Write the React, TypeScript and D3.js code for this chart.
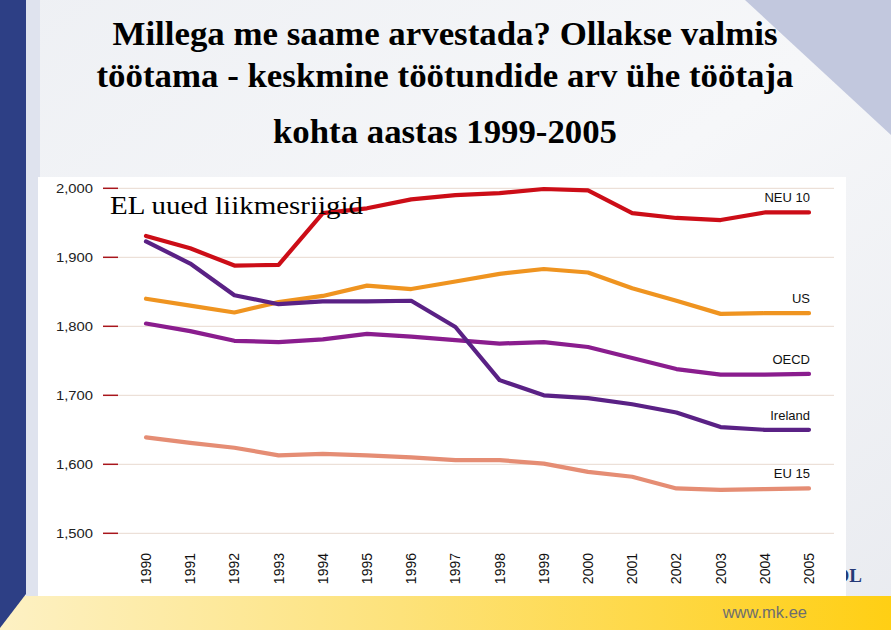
import React from 'react';
import * as d3 from 'd3';

// years on the x axis
const years = [1990, 1991, 1992, 1993, 1994, 1995, 1996, 1997, 1998, 1999, 2000, 2001, 2002, 2003, 2004, 2005];

// average annual hours per worker
const neu10 = [1931, 1913, 1888, 1889, 1964, 1971, 1984, 1990, 1993, 1999, 1997, 1964, 1957, 1954, 1965, 1965];
const us = [1840, 1830, 1820, 1835, 1844, 1859, 1854, 1865, 1876, 1883, 1878, 1855, 1837, 1818, 1819, 1819];
const oecd = [1804, 1793, 1779, 1777, 1781, 1789, 1785, 1780, 1775, 1777, 1770, 1754, 1738, 1730, 1730, 1731];
const ireland = [1923, 1891, 1845, 1832, 1836, 1836, 1837, 1799, 1722, 1700, 1696, 1687, 1675, 1654, 1650, 1650];
const eu15 = [1639, 1631, 1624, 1613, 1615, 1613, 1610, 1606, 1606, 1601, 1589, 1582, 1565, 1563, 1564, 1565];

const yTicks = [1500, 1600, 1700, 1800, 1900, 2000];

const titleLines = [
  'Millega me saame arvestada? Ollakse valmis',
  'töötama - keskmine töötundide arv ühe töötaja',
  'kohta aastas 1999-2005',
];

const series = [
  { name: 'EU 15', values: eu15, color: '#e58d74' },
  { name: 'US', values: us, color: '#ef9420' },
  { name: 'OECD', values: oecd, color: '#8a1d8e' },
  { name: 'Ireland', values: ireland, color: '#5a2185' },
  { name: 'NEU 10', values: neu10, color: '#cc0d17' },
];

const App: React.FC = () => {
  const x = d3.scaleLinear().domain([1990, 2005]).range([146, 809]);
  const y = d3.scaleLinear().domain([1500, 2000]).range([533.3, 188.3]);
  const fmt = d3.format(',');

  const line = d3
    .line<number>()
    .x((_, i) => x(years[i]))
    .y(d => y(d));

  const titleY = [45, 87, 143];
  const titleLen = [665, 697, 344];

  return (
    <svg width={891} height={630} style={{ position: 'fixed', left: 0, top: 0 }}>
      <defs>
        <linearGradient id="bg" x1="0" y1="0" x2="1" y2="1">
          <stop offset="0" stopColor="#eef0f4" />
          <stop offset="0.5" stopColor="#f6f7f9" />
          <stop offset="1" stopColor="#e9ebf0" />
        </linearGradient>
        <linearGradient id="yellow" x1="0" y1="0" x2="1" y2="0">
          <stop offset="0" stopColor="#fdf1c4" />
          <stop offset="0.45" stopColor="#fde27a" />
          <stop offset="1" stopColor="#ffcf14" />
        </linearGradient>
      </defs>

      {/* slide background */}
      <rect x={0} y={0} width={891} height={630} fill="url(#bg)" />
      <polygon points="745,0 891,0 891,135" fill="#c2c8de" />
      <rect x={26} y={0} width={14} height={596} fill="#dfe3ee" />
      <rect x={0} y={596} width={891} height={34} fill="url(#yellow)" />
      <polygon points="0,0 26,0 26,594 0,628" fill="#2d3f85" />
      <text x={862} y={582} textAnchor="end" fontFamily="Liberation Serif" fontWeight="bold" fontSize={19} fill="#243a78">
        OL
      </text>
      <text x={807} y={618} textAnchor="end" fontFamily="Liberation Sans" fontSize={16.5} fill="#6e6e6e">
        www.mk.ee
      </text>

      {/* title */}
      {titleLines.map((t, i) => (
        <text
          key={t}
          x={445}
          y={titleY[i]}
          textAnchor="middle"
          fontFamily="Liberation Serif"
          fontWeight="bold"
          fontSize={34}
          textLength={titleLen[i]}
          lengthAdjust="spacingAndGlyphs"
          fill="#000"
        >
          {t}
        </text>
      ))}

      {/* chart panel */}
      <rect x={38} y={177} width={808} height={419} fill="#fff" />

      {/* grid and y axis */}
      {yTicks.map(t => (
        <g key={t}>
          <line x1={118} x2={834} y1={y(t)} y2={y(t)} stroke="#e8d9cf" strokeWidth={1} />
          <line x1={103} x2={118} y1={y(t)} y2={y(t)} stroke="#a8161c" strokeWidth={1.5} />
          <text
            x={93}
            y={y(t) + 4.5}
            textAnchor="end"
            fontFamily="Liberation Sans"
            fontSize={12.5}
            textLength={37}
            lengthAdjust="spacingAndGlyphs"
            fill="#222"
          >
            {fmt(t)}
          </text>
        </g>
      ))}

      {/* x axis labels */}
      {years.map(yr => (
        <text
          key={yr}
          transform={`translate(${x(yr) + 5},553) rotate(-90)`}
          textAnchor="end"
          fontFamily="Liberation Sans"
          fontSize={14}
          fill="#111"
        >
          {yr}
        </text>
      ))}

      {/* series */}
      {series.map(s => (
        <g key={s.name}>
          <path
            d={line(s.values) || ''}
            fill="none"
            stroke={s.color}
            strokeWidth={4.2}
            strokeLinejoin="round"
            strokeLinecap="round"
          />
          <text
            x={810}
            y={y(s.values[s.values.length - 1]) - 10}
            textAnchor="end"
            fontFamily="Liberation Sans"
            fontSize={13}
            fill="#111"
          >
            {s.name}
          </text>
        </g>
      ))}

      <text
        x={110}
        y={214}
        fontFamily="Liberation Serif"
        fontSize={25}
        textLength={253}
        lengthAdjust="spacingAndGlyphs"
        fill="#000"
      >
        EL uued liikmesriigid
      </text>
    </svg>
  );
};

export default App;
